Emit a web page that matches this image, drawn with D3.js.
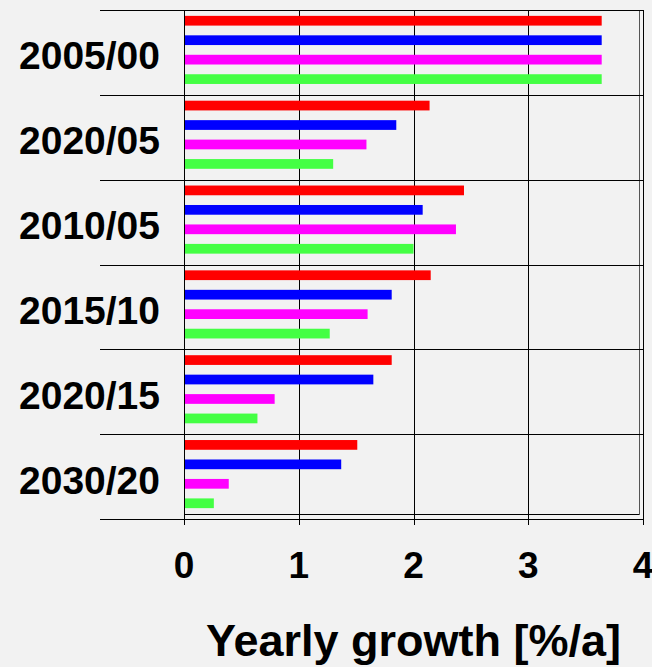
<!DOCTYPE html>
<html>
<head>
<meta charset="utf-8">
<script src="https://cdn.jsdelivr.net/npm/d3@7"></script>
<style>
  html, body { margin: 0; padding: 0; background: #f2f2f2; }
  svg { display: block; font-family: "Liberation Sans", Arial, sans-serif; }
</style>
</head>
<body>
<svg id="chart" width="652" height="667"></svg>
<script>
var CATEGORIES = ["2005/00", "2020/05", "2010/05", "2015/10", "2020/15", "2030/20"];
var SERIES = ["s1", "s2", "s3", "s4"];
var COLORS = ["#ff0000", "#0000ff", "#ff00ff", "#44ff44"];
var S1 = [3.64, 2.14, 2.44, 2.15, 1.81, 1.51];
var S2 = [3.64, 1.85, 2.08, 1.81, 1.65, 1.37];
var S3 = [3.64, 1.59, 2.37, 1.60, 0.79, 0.39];
var S4 = [3.64, 1.30, 2.00, 1.27, 0.64, 0.26];
var X_TICKS = [0, 1, 2, 3, 4];
var X_TITLE = "Yearly growth [%/a]";

var DATA = CATEGORIES.map(function(c, i){
    return {label: c, values: [S1[i], S2[i], S3[i], S4[i]]};
});

const drawChart = ({ data, selector }) => {
    const svg = d3.select(selector);
    const margin = { top: 10, right: 9, bottom: 148, left: 184 };
    const width = +svg.attr('width'), height = +svg.attr('height');

    const x = d3.scaleLinear().domain([0, 4]).range([margin.left, width - margin.right]);
    const y = d3.scaleBand().domain(CATEGORIES).range([margin.top, height - margin.bottom]).padding(0);
    const yInner = d3.scaleBand().domain(d3.range(SERIES.length))
        .range([1, y.bandwidth() - 6]).paddingInner(0.5).paddingOuter(0.25);

    const yTop = y.range()[0], yBot = y.range()[1];

    // vertical gridlines + ticks
    svg.append('g')
        .attr('stroke', '#000')
        .attr('stroke-width', 1)
        .selectAll('line')
        .data(X_TICKS)
        .join('line')
        .attr('x1', (d) => Math.round(x(d)) + 0.5)
        .attr('x2', (d) => Math.round(x(d)) + 0.5)
        .attr('y1', yTop)
        .attr('y2', yBot + 6);

    // inner frame lines (double edge right / bottom)
    svg.append('line')
        .attr('x1', x(0)).attr('x2', x(4) - 4)
        .attr('y1', yBot - 4.5).attr('y2', yBot - 4.5)
        .attr('stroke', '#000');
    svg.append('line')
        .attr('x1', x(4) - 3.5).attr('x2', x(4) - 3.5)
        .attr('y1', yTop).attr('y2', yBot - 4)
        .attr('stroke', '#555');

    // horizontal separators
    svg.append('g')
        .attr('stroke', '#000')
        .selectAll('line')
        .data(CATEGORIES.concat(['__end']))
        .join('line')
        .attr('x1', 100)
        .attr('x2', x(4))
        .attr('y1', (d, i) => Math.round(yTop + i * y.bandwidth()) + 0.5)
        .attr('y2', (d, i) => Math.round(yTop + i * y.bandwidth()) + 0.5);

    // bars
    const groups = svg.append('g')
        .selectAll('g')
        .data(data)
        .join('g')
        .attr('transform', (d) => `translate(0,${y(d.label)})`);
    groups.selectAll('rect')
        .data((d) => d.values)
        .join('rect')
        .attr('x', x(0) + 1)
        .attr('y', (d, i) => yInner(i))
        .attr('width', (d) => x(d) - x(0) - 1)
        .attr('height', yInner.bandwidth())
        .attr('fill', (d, i) => COLORS[i]);

    // category labels
    svg.append('g')
        .attr('text-anchor', 'end')
        .attr('font-weight', 'bold')
        .attr('font-size', 39)
        .selectAll('text')
        .data(CATEGORIES)
        .join('text')
        .attr('x', 160)
        .attr('y', (d) => y(d) + y.bandwidth() / 2 + 17)
        .text((d) => d);

    // x tick labels
    svg.append('g')
        .attr('text-anchor', 'middle')
        .attr('font-weight', 'bold')
        .attr('font-size', 37)
        .selectAll('text')
        .data(X_TICKS)
        .join('text')
        .attr('x', (d) => x(d))
        .attr('y', 578)
        .text((d) => d);

    svg.append('text')
        .attr('x', x(2))
        .attr('y', 656)
        .attr('text-anchor', 'middle')
        .attr('font-weight', 'bold')
        .attr('font-size', 45)
        .text(X_TITLE);
};

drawChart({ data: DATA, selector: '#chart' });
</script>
</body>
</html>
